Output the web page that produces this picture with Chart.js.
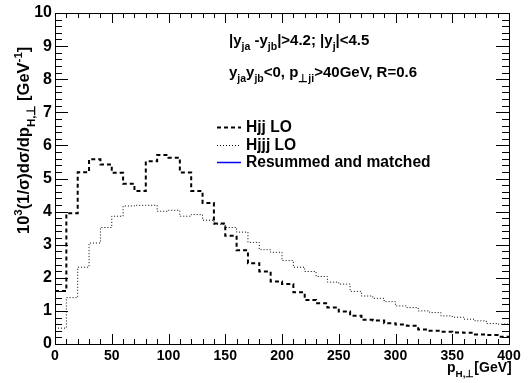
<!DOCTYPE html>
<html>
<head>
<meta charset="utf-8">
<script src="https://cdn.jsdelivr.net/npm/chart.js@4.4.0/dist/chart.umd.min.js"></script>
<style>
html, body { margin: 0; padding: 0; background: #fff; }
#wrap { width: 531px; height: 383px; }
</style>
</head>
<body>
<div id="wrap"><canvas id="c"></canvas></div>
<script>
// bin low edges (10 GeV bins) plus the last upper edge
var binEdges = [0, 10, 20, 30, 40, 50, 60, 70, 80, 90, 100, 110, 120, 130, 140, 150, 160, 170, 180, 190,
                200, 210, 220, 230, 240, 250, 260, 270, 280, 290, 300, 310, 320, 330, 340, 350, 360, 370, 380, 390, 400];

var hjjLO = [1.60, 3.95, 5.19, 5.58, 5.42, 5.17, 4.84, 4.62, 5.52, 5.71,
             5.63, 5.18, 4.62, 4.26, 3.64, 3.27, 2.83, 2.44, 2.19, 1.89,
             1.81, 1.56, 1.33, 1.23, 1.10, 0.98, 0.85, 0.73, 0.71, 0.63,
             0.59, 0.55, 0.44, 0.40, 0.37, 0.35, 0.34, 0.29, 0.27, 0.22];

var hjjjLO = [0.48, 1.40, 2.32, 3.05, 3.52, 3.86, 4.17, 4.19, 4.19, 4.01,
              4.04, 3.86, 3.91, 3.74, 3.62, 3.52, 3.38, 3.07, 2.85, 2.77,
              2.52, 2.32, 2.19, 2.04, 1.87, 1.81, 1.59, 1.45, 1.38, 1.28,
              1.15, 1.10, 1.00, 0.95, 0.85, 0.81, 0.75, 0.70, 0.62, 0.60];

var resummed = [];

var seriesNames = ["Hjj LO", "Hjjj LO", "Resummed and matched"];

var FONT = "'Liberation Sans', Arial, Helvetica, sans-serif";

function histPoints(vals) {
    var pts = [];
    for (var i = 0; i < vals.length; i++) pts.push({x: binEdges[i], y: vals[i]});
    if (vals.length) pts.push({x: binEdges[vals.length], y: vals[vals.length - 1]});
    return pts;
}

// draws text with sub/superscript pieces: [text, 0 normal | 1 sub | 2 sup]
function richText(ctx, x, y, parts, size) {
    ctx.textAlign = 'left';
    ctx.textBaseline = 'alphabetic';
    for (var i = 0; i < parts.length; i++) {
        var t = parts[i][0], m = parts[i][1];
        var s = m ? size * 0.7 : size;
        var dy = m === 1 ? size * 0.35 : (m === 2 ? -size * 0.45 : 0);
        ctx.font = 'bold ' + s + 'px ' + FONT;
        ctx.fillText(t, x, y + dy);
        x += ctx.measureText(t).width;
    }
    return x;
}

var rootFrame = {
    id: 'rootFrame',
    afterDatasetsDraw: function(chart) {
        var ctx = chart.ctx, a = chart.chartArea;
        var xs = chart.scales.x, ys = chart.scales.y;
        ctx.save();
        ctx.strokeStyle = '#000';
        ctx.fillStyle = '#000';
        ctx.lineWidth = 1;
        ctx.setLineDash([]);
        ctx.strokeRect(a.left + 0.5, a.top + 0.5, a.right - a.left, a.bottom - a.top);

        // ticks inside the frame, on all four sides
        ctx.beginPath();
        for (var v = 0; v <= 400; v += 10) {
            var px = Math.round(xs.getPixelForValue(v)) + 0.5;
            var len = (v % 50 === 0) ? 10 : 5;
            ctx.moveTo(px, a.bottom); ctx.lineTo(px, a.bottom - len);
            ctx.moveTo(px, a.top); ctx.lineTo(px, a.top + len);
        }
        for (var k = 0; k <= 50; k++) {
            var py = Math.round(ys.getPixelForValue(k / 5)) + 0.5;
            var ylen = (k % 5 === 0) ? 13 : 7;
            ctx.moveTo(a.left, py); ctx.lineTo(a.left + ylen, py);
            ctx.moveTo(a.right, py); ctx.lineTo(a.right - ylen, py);
        }
        ctx.stroke();

        // cut labels
        richText(ctx, 229, 45, [["|y", 0], ["ja", 1], [" -y", 0], ["jb", 1], ["|>4.2; |y", 0], ["j", 1], ["|<4.5", 0]], 15);
        richText(ctx, 229, 77, [["y", 0], ["ja", 1], ["y", 0], ["jb", 1], ["<0, p", 0], ["\u22A5ji", 1], [">40GeV, R=0.6", 0]], 15);

        // legend
        var ds = chart.data.datasets;
        var rows = [127, 145, 162];
        for (var i = 0; i < ds.length; i++) {
            ctx.beginPath();
            ctx.strokeStyle = ds[i].borderColor;
            ctx.lineWidth = ds[i].borderWidth;
            ctx.setLineDash(ds[i].borderDash || []);
            ctx.moveTo(217, rows[i] + 0.5); ctx.lineTo(241, rows[i] + 0.5);
            ctx.stroke();
            ctx.fillStyle = '#000';
            richText(ctx, 246, rows[i] + 5, [[ds[i].label, 0]], 15.6);
        }
        ctx.setLineDash([]);

        // axis titles
        richText(ctx, 447, 372, [["p", 0], ["H,\u22A5", 1], ["[GeV]", 0]], 14);
        ctx.save();
        ctx.translate(29, 234);
        ctx.rotate(-Math.PI / 2);
        richText(ctx, 0, 0, [["10", 0], ["3", 2], ["(1/\u03C3)d\u03C3/dp", 0], ["H,\u22A5", 1], [" [GeV", 0], ["-1", 2], ["]", 0]], 16.5);
        ctx.restore();
        ctx.restore();
    }
};

var ctx = document.getElementById('c');

var chart = new Chart(ctx, {
    type: 'scatter',
    data: {
        datasets: [
            {
                label: seriesNames[0],
                data: histPoints(hjjLO),
                showLine: true,
                stepped: 'before',
                borderColor: '#000',
                borderWidth: 2,
                borderDash: [4, 3],
                pointRadius: 0,
                fill: false
            },
            {
                label: seriesNames[1],
                data: histPoints(hjjjLO),
                showLine: true,
                stepped: 'before',
                borderColor: '#000',
                borderWidth: 1,
                borderDash: [1, 2],
                pointRadius: 0,
                fill: false
            },
            {
                label: seriesNames[2],
                data: histPoints(resummed),
                showLine: true,
                borderColor: '#0000ff',
                borderWidth: 1.5,
                pointRadius: 0,
                fill: false
            }
        ]
    },
    options: {
        responsive: true,
        maintainAspectRatio: false,
        animation: false,
        layout: { padding: { top: 13, right: 22, left: 0, bottom: 0 } },
        plugins: {
            legend: { display: false },
            tooltip: { enabled: false }
        },
        scales: {
            x: {
                type: 'linear',
                min: 0,
                max: 400,
                grid: { display: false, drawTicks: false },
                border: { display: false },
                ticks: {
                    stepSize: 50,
                    padding: 4,
                    maxRotation: 0,
                    autoSkip: false,
                    color: '#000',
                    font: { family: FONT, size: 14, weight: 'bold' }
                },
                afterFit: function(s) { s.height = 39; }
            },
            y: {
                min: 0,
                max: 10,
                grid: { display: false, drawTicks: false },
                border: { display: false },
                ticks: {
                    stepSize: 1,
                    padding: 3,
                    color: '#000',
                    font: { family: FONT, size: 16, weight: 'bold' }
                },
                afterFit: function(s) { s.width = 55; }
            }
        }
    },
    plugins: [rootFrame]
});
</script>
</body>
</html>
